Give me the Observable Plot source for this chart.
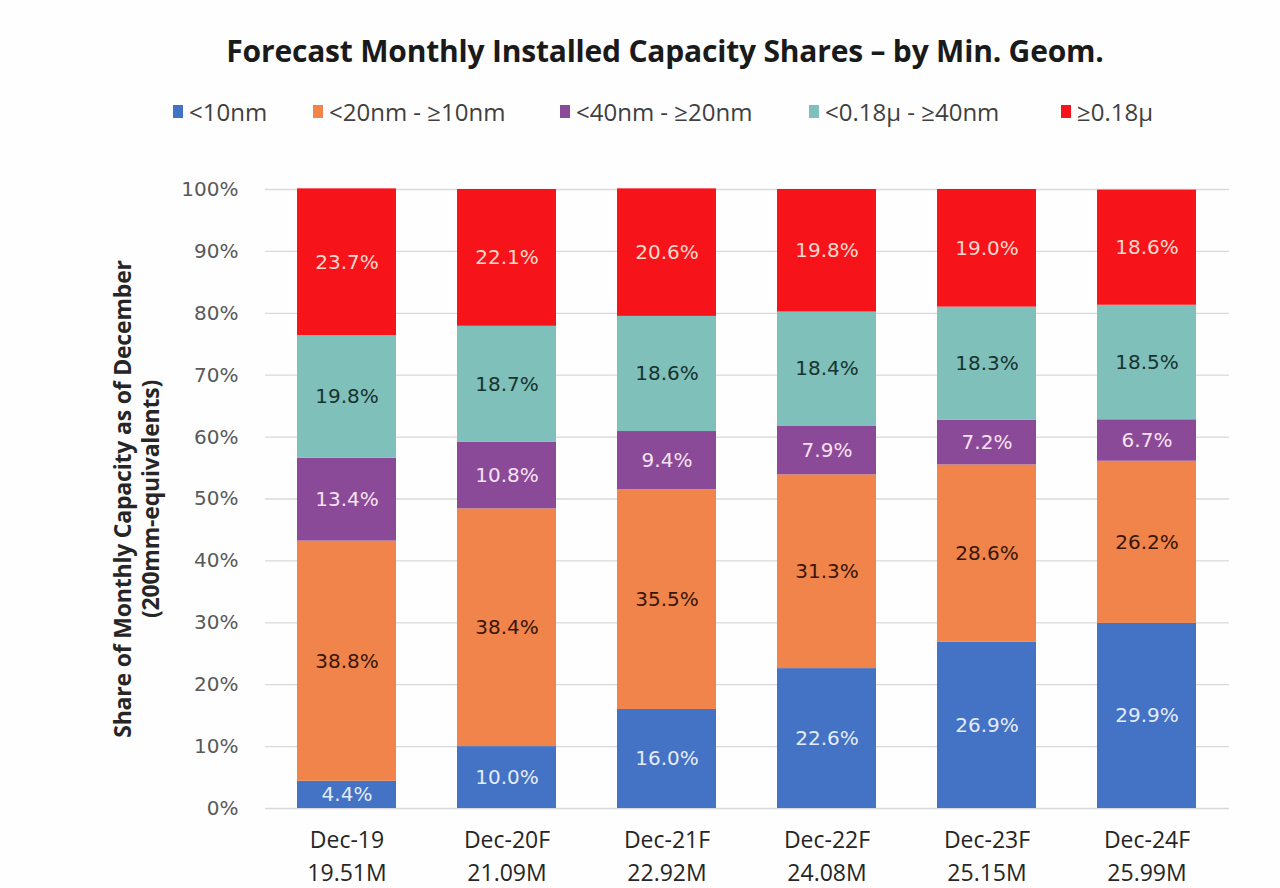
<!DOCTYPE html>
<html>
<head>
<meta charset="utf-8">
<script src="https://cdn.jsdelivr.net/npm/d3@7"></script>
<script src="https://cdn.jsdelivr.net/npm/@observablehq/plot@0.6"></script>
<style>
  html, body { margin: 0; padding: 0; background: #ffffff; }
  #wrap { position: relative; width: 1280px; height: 888px; overflow: hidden; background: #fefefe; }
  #title { position: absolute; left: 0; width: 1330px; top: 30px; text-align: center;
    font-family: "Open Sans", sans-serif; font-weight: 700; font-size: 30px; color: #1a1a1a; letter-spacing: -0.2px; }
  #legend { position: absolute; left: 0; top: 95px; width: 1280px; height: 34px; }
  .li { position: absolute; top: 0; display: flex; align-items: center;
    font-family: "Open Sans", sans-serif; font-size: 24px; color: #404040; white-space: nowrap; }
  .sw { width: 10px; height: 13px; margin-right: 6px; display: inline-block; }
  #ylabel { position: absolute; left: 136px; top: 499px; transform: translate(-50%, -50%) rotate(-90deg);
    font-family: "Open Sans", sans-serif; font-weight: 700; font-size: 23px; color: #262626;
    text-align: center; line-height: 28px; white-space: nowrap; letter-spacing: -0.2px; }
  #chart { position: absolute; left: 0; top: 150px; }
</style>
</head>
<body>
<div id="wrap">
  <div id="title">Forecast Monthly Installed Capacity Shares – by Min. Geom.</div>
  <div id="legend"></div>
  <div id="ylabel">Share of Monthly Capacity as of December<br>(200mm-equivalents)</div>
  <div id="chart"></div>
</div>
<script>
const categories = ["Dec-19", "Dec-20F", "Dec-21F", "Dec-22F", "Dec-23F", "Dec-24F"];
const totals = ["19.51M", "21.09M", "22.92M", "24.08M", "25.15M", "25.99M"];
const series = ["<10nm", "<20nm – ≥10nm", "<40nm – ≥20nm", "<0.18µ – ≥40nm", "≥0.18µ"];
const colors = ["#4472C4", "#F0844A", "#8B4A98", "#80C0BA", "#F7131A"];
const labelColors = ["#e3ecfb", "#3a1608", "#f6e2f3", "#17332f", "#fcd8cc"];
const v_lt10 = [4.4, 10.0, 16.0, 22.6, 26.9, 29.9];
const v_10_20 = [38.8, 38.4, 35.5, 31.3, 28.6, 26.2];
const v_20_40 = [13.4, 10.8, 9.4, 7.9, 7.2, 6.7];
const v_40_180 = [19.8, 18.7, 18.6, 18.4, 18.3, 18.5];
const v_ge180 = [23.7, 22.1, 20.6, 19.8, 19.0, 18.6];
const yTicks = [0, 10, 20, 30, 40, 50, 60, 70, 80, 90, 100];

const valueSets = [v_lt10, v_10_20, v_20_40, v_40_180, v_ge180];
const data = [];
series.forEach((s, si) => categories.forEach((c, ci) => data.push({cat: c, series: s, value: valueSets[si][ci]})));

// legend
const legendLeft = [173, 313, 560, 809, 1061];
const lg = document.getElementById("legend");
series.forEach((s, i) => {
  const d = document.createElement("div");
  d.className = "li";
  d.style.left = legendLeft[i] + "px";
  d.innerHTML = `<span class="sw" style="background:${colors[i]}"></span><span>${s.replace("–", "-")}</span>`;
  lg.appendChild(d);
});

const catLabel = new Map(categories.map((c, i) => [c, c + "\n" + totals[i]]));

const plot = Plot.plot({
  width: 1280,
  height: 738,
  marginLeft: 265,
  marginRight: 51,
  marginTop: 39,
  marginBottom: 80,
  style: {background: "transparent", overflow: "visible"},
  x: {domain: categories, paddingInner: 0.38, paddingOuter: 0.19, label: null, axis: null},
  y: {domain: [0, 100], label: null, axis: null},
  color: {domain: series, range: colors},
  marks: [
    Plot.gridY(yTicks, {stroke: "#d9d9d9", strokeOpacity: 1, strokeWidth: 1.3}),
    Plot.barY(data, {x: "cat", y: "value", fill: "series", order: null}),
    Plot.text(data, Plot.stackY({x: "cat", y: "value", z: "series", order: null,
      text: d => d.value.toFixed(1) + "%",
      fill: d => labelColors[series.indexOf(d.series)],
      fontFamily: "DejaVu Sans", fontSize: 20})),
    Plot.axisY(yTicks, {tickSize: 0, tickPadding: 27, tickFormat: d => d + "%",
      fontFamily: "DejaVu Sans", fontSize: 20, color: "#595959", label: null}),
    Plot.axisX({tickSize: 0, tickPadding: 16, tickFormat: d => catLabel.get(d),
      fontFamily: "Open Sans", fontSize: 23, lineHeight: 1.43, color: "#262626", label: null})
  ]
});
document.getElementById("chart").appendChild(plot);
</script>
</body>
</html>
